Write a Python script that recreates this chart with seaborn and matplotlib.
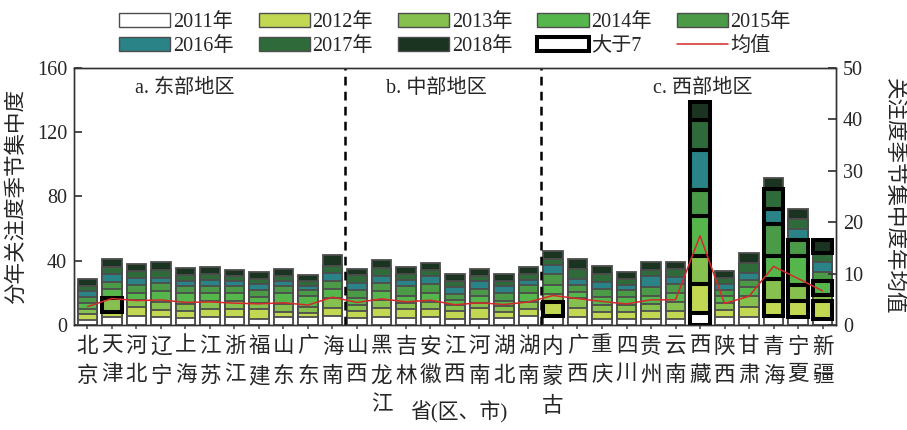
import numpy as np
import pandas as pd
import matplotlib
matplotlib.use("Agg")
import matplotlib.pyplot as plt
from matplotlib.patches import Patch
from matplotlib.lines import Line2D
import seaborn as sns

# Provinces, grouped into eastern / central / western regions
provinces = ["北京", "天津", "河北", "辽宁", "上海", "江苏", "浙江", "福建", "山东", "广东", "海南",
             "山西", "黑龙江", "吉林", "安徽", "江西", "河南", "湖北", "湖南",
             "内蒙古", "广西", "重庆", "四川", "贵州", "云南", "西藏", "陕西", "甘肃", "青海", "宁夏", "新疆"]
years = ["2011年", "2012年", "2013年", "2014年", "2015年", "2016年", "2017年", "2018年"]

# Seasonal concentration of attention, per year and province
v2011 = [3.1, 4.8, 5.6, 4.8, 4.2, 4.8, 5.2, 4.0, 4.8, 4.8, 5.6, 4.2, 4.8, 4.2, 4.8, 3.5,
         3.5, 4.2, 5.6, 5.6, 4.8, 3.8, 3.5, 3.5, 3.8, 7.6, 5.2, 5.2, 5.6, 5.0, 4.0]
v2012 = [3.8, 3.5, 5.8, 4.6, 4.6, 5.2, 4.8, 6.0, 3.5, 2.9, 5.2, 4.8, 5.6, 5.6, 5.0, 5.4,
         6.9, 4.2, 4.4, 9.0, 5.6, 4.0, 4.8, 5.4, 5.2, 17.9, 4.2, 6.2, 9.5, 9.8, 11.2]
v2013 = [3.1, 8.3, 4.2, 5.2, 4.2, 5.0, 5.0, 3.5, 4.6, 3.8, 5.8, 3.5, 5.2, 4.2, 4.8, 3.5,
         3.1, 3.5, 4.6, 4.6, 6.2, 4.8, 4.2, 4.2, 5.2, 17.7, 4.2, 6.7, 13.5, 10.4, 3.6]
v2014 = [3.5, 5.6, 4.6, 6.7, 6.9, 5.2, 4.8, 4.2, 6.9, 6.7, 5.6, 4.2, 5.6, 4.2, 5.2, 3.1,
         4.6, 3.1, 5.6, 5.8, 4.2, 4.8, 4.8, 5.0, 6.0, 24.4, 4.2, 5.8, 14.2, 18.0, 8.6]
v2015 = [3.8, 4.8, 4.4, 4.8, 4.2, 3.8, 4.6, 4.2, 4.2, 3.8, 5.2, 4.8, 4.8, 5.8, 5.6, 3.5,
         4.4, 4.8, 4.4, 6.9, 4.2, 5.0, 4.2, 5.4, 5.2, 16.7, 4.2, 4.2, 20.2, 10.0, 5.4]
v2016 = [4.0, 4.6, 4.6, 3.1, 3.1, 4.2, 2.7, 3.5, 3.3, 2.1, 5.2, 4.6, 4.2, 4.2, 4.8, 4.8,
         4.6, 4.2, 3.5, 5.6, 3.5, 4.4, 3.1, 6.7, 4.2, 24.4, 3.5, 4.2, 9.4, 6.7, 6.5]
v2017 = [3.1, 4.8, 4.2, 5.2, 3.8, 3.5, 3.1, 3.3, 2.9, 3.1, 4.2, 4.8, 5.2, 3.5, 4.2, 3.5,
         3.3, 3.5, 3.5, 3.8, 6.2, 5.2, 4.0, 4.2, 5.2, 19.0, 3.8, 6.2, 12.1, 5.8, 5.5]
v2018 = [4.2, 4.8, 4.6, 4.6, 4.2, 4.2, 3.8, 4.2, 4.4, 3.8, 6.5, 4.2, 5.2, 4.4, 4.2, 4.2,
         4.2, 4.4, 4.2, 4.6, 6.5, 4.6, 4.2, 4.8, 4.4, 11.2, 4.2, 6.2, 6.7, 6.7, 8.3]

year_colors = ["#ffffff", "#c2d852", "#86c04f", "#55b64c", "#4a9a47",
               "#2a8386", "#2f6a3b", "#1b3421"]
regions = ["a. 东部地区", "b. 中部地区", "c. 西部地区"]
threshold = 7

values = np.array([v2011, v2012, v2013, v2014, v2015, v2016, v2017, v2018])
cum = values.cumsum(axis=0)
bottoms = cum - values
mean_vals = values.mean(axis=0)

sns.set_theme(style="white")
plt.rcParams["font.family"] = ["Liberation Serif", "Noto Sans CJK SC"]
plt.rcParams["axes.unicode_minus"] = False

fig = plt.figure(figsize=(9.07, 4.30), dpi=100)
ax = fig.add_axes([0.0816, 0.2442, 0.8401, 0.5977])

edge = "#4d4d4d"
# stacked bars: draw cumulative totals from the top layer down
for k in range(len(years) - 1, -1, -1):
    layer = pd.DataFrame({"省": provinces, "h": cum[k]})
    sns.barplot(data=layer, x="省", y="h", order=provinces, color=year_colors[k],
                saturation=1, edgecolor=edge, linewidth=1.3, width=0.8, ax=ax)

# heavy outline on yearly values above the threshold
xs = np.arange(len(provinces))
for k in range(len(years)):
    mask = values[k] > threshold
    ax.bar(xs[mask], values[k][mask], bottom=bottoms[k][mask], width=0.8,
           fill=False, edgecolor="black", linewidth=2.9, zorder=5)

ax.set_xlim(-0.55, len(provinces) - 0.45)
ax.set_ylim(0, 160)
ax.set_yticks([0, 40, 80, 120, 160])
ax.set_xticks(xs)
ax.set_xticklabels(["\n".join(p) for p in provinces], fontsize=15.5, linespacing=1.62)
ax.set_xlabel("省(区、市)", fontsize=15)
ax.xaxis.set_label_coords(0.505, -0.297)
ax.set_ylabel("分年关注度季节集中度", fontsize=15.5)
ax.yaxis.set_label_coords(-0.062, 0.5)
ax.tick_params(axis="y", direction="in", length=6, labelsize=14.5, pad=5,
               left=True, color="#333333")
ax.tick_params(axis="x", direction="out", length=3, pad=6, bottom=True, color="#555555")
for s in ax.spines.values():
    s.set_color("#333333")
    s.set_linewidth(1.0)

# region separators and labels
for xb in [10.5, 18.5]:
    ax.axvline(xb, color="black", linestyle=(0, (3.5, 2.5)), linewidth=1.8, zorder=6)
for xt, txt in zip([1.95, 12.2, 23.1], regions):
    ax.text(xt, 147, txt, fontsize=14.5, va="center", ha="left")

# yearly mean on the secondary axis
ax2 = ax.twinx()
sns.lineplot(x=xs, y=mean_vals, ax=ax2, color="#d42a2a", linewidth=1.1)
ax2.set_ylim(0, 50)
ax2.set_xlim(ax.get_xlim())
ax2.set_yticks([0, 10, 20, 30, 40, 50])
ax2.set_ylabel("关注度季节集中度年均值", fontsize=15.5, rotation=270, va="bottom")
ax2.yaxis.set_label_coords(1.062, 0.5)
ax2.tick_params(axis="y", direction="in", length=6, labelsize=14.5, pad=5,
                right=True, color="#333333")
for s in ax2.spines.values():
    s.set_color("#333333")
    s.set_linewidth(1.0)

# legend in two rows of five
handles = [Patch(facecolor=c, edgecolor=edge, linewidth=1.0) for c in year_colors]
labels = list(years)
handles.append(Patch(facecolor="white", edgecolor="black", linewidth=2.9))
labels.append("大于7")
handles.append(Line2D([0], [0], color="#d42a2a", linewidth=1.1))
labels.append("均值")
order = [0, 5, 1, 6, 2, 7, 3, 8, 4, 9]
fig.legend([handles[i] for i in order], [labels[i] for i in order], ncol=5,
           loc="upper left", bbox_to_anchor=(0.118, 0.998), frameon=False,
           fontsize=14.5, handlelength=2.55, handleheight=0.7, handletextpad=0.12,
           columnspacing=1.25, labelspacing=0.25, borderaxespad=0.2)

fig.savefig("out.png", dpi=100)
